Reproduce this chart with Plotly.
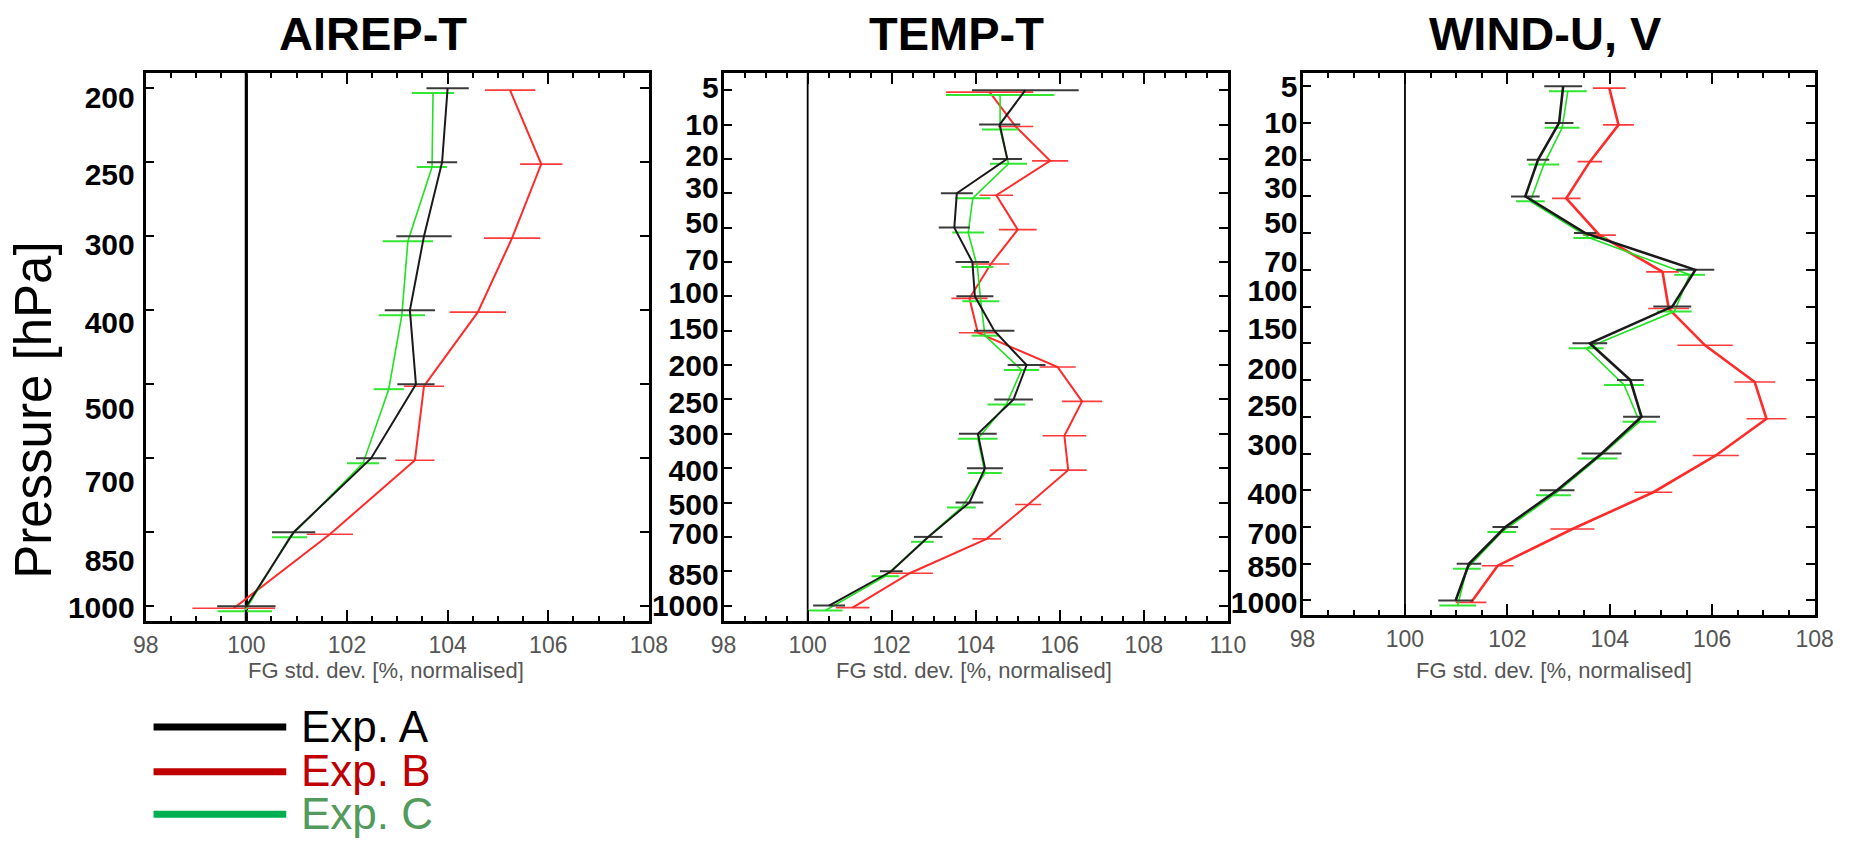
import plotly.graph_objects as go

W, H = 1870, 842

# ---------------- data ----------------
# AIREP-T
airep_levels = ["200", "250", "300", "400", "500", "700", "850", "1000"]
airep_A = [104.0, 103.89, 103.53, 103.25, 103.37, 102.48, 100.94, 100.0]
airep_A_err = [0.42, 0.30, 0.55, 0.50, 0.37, 0.30, 0.43, 0.58]
airep_B = [105.24, 105.86, 105.28, 104.60, 103.53, 103.35, 101.66, 99.75]
airep_B_err = [0.50, 0.42, 0.56, 0.56, 0.40, 0.39, 0.46, 0.82]
airep_C = [103.71, 103.69, 103.21, 103.09, 102.83, 102.32, 100.86, 99.97]
airep_C_err = [0.42, 0.30, 0.50, 0.46, 0.30, 0.32, 0.35, 0.54]

# TEMP-T
temp_levels = ["5", "10", "20", "30", "50", "70", "100", "150", "200", "250",
               "300", "400", "500", "700", "850", "1000"]
temp_A = [105.18, 104.57, 104.75, 103.55, 103.49, 103.92, 103.98, 104.44,
          105.21, 104.90, 104.05, 104.22, 103.85, 102.87, 101.99, 100.51]
temp_A_err = [1.27, 0.49, 0.35, 0.38, 0.37, 0.40, 0.44, 0.48,
              0.45, 0.46, 0.45, 0.43, 0.33, 0.34, 0.27, 0.38]
temp_B = [104.33, 104.95, 105.77, 104.49, 105.00, 104.36, 103.85, 104.05,
          105.95, 106.53, 106.11, 106.20, 105.25, 104.26, 102.43, 101.07]
temp_B_err = [1.04, 0.42, 0.43, 0.40, 0.45, 0.44, 0.43, 0.45,
              0.43, 0.48, 0.52, 0.44, 0.31, 0.34, 0.55, 0.40]
temp_C = [104.58, 104.58, 104.78, 103.93, 103.82, 104.04, 104.12, 104.22,
          105.09, 104.73, 104.05, 104.22, 103.66, 102.73, 101.85, 100.42]
temp_C_err = [1.29, 0.43, 0.44, 0.42, 0.38, 0.38, 0.44, 0.32,
              0.42, 0.45, 0.47, 0.40, 0.34, 0.27, 0.33, 0.41]

# WIND-U, V
wind_levels = ["5", "10", "20", "30", "50", "70", "100", "150", "200", "250",
               "300", "400", "700", "850", "1000"]
wind_A = [103.09, 103.01, 102.60, 102.35, 103.52, 105.67, 105.22, 103.61,
          104.40, 104.62, 103.84, 102.97, 101.96, 101.25, 100.99]
wind_A_err = [0.37, 0.28, 0.22, 0.28, 0.22, 0.37, 0.37, 0.34,
              0.26, 0.36, 0.39, 0.34, 0.25, 0.24, 0.34]
wind_B = [103.99, 104.17, 103.61, 103.15, 103.80, 105.03, 105.15, 105.86,
          106.83, 107.06, 106.07, 104.85, 103.27, 101.81, 101.29]
wind_B_err = [0.32, 0.30, 0.24, 0.28, 0.32, 0.32, 0.40, 0.54,
              0.40, 0.39, 0.45, 0.37, 0.43, 0.31, 0.30]
wind_C = [103.18, 103.07, 102.71, 102.45, 103.61, 105.56, 105.26, 103.54,
          104.28, 104.58, 103.76, 102.90, 101.89, 101.21, 101.03]
wind_C_err = [0.37, 0.34, 0.30, 0.28, 0.32, 0.30, 0.34, 0.34,
              0.39, 0.33, 0.39, 0.34, 0.28, 0.27, 0.36]

legend_names = ["Exp. A", "Exp. B", "Exp. C"]

# ---------------- layout of the three panels (pixels) ----------------
# label_shift: where each pressure label sits relative to its tick (in level units)
panels = [
    dict(title="AIREP-T", title_x=366, xtitle_x=380,
         box=(135, 70, 647, 623), xrange=[98, 108], yrange=[7.2, -0.2],
         levels=airep_levels,
         label_shift=[0.12, 0.16, 0.11, 0.16, 0.33, 0.31, 0.38, 0.01],
         label_gap=10, vline_w=3.2, lw=(2.0, 1.6, 2.0),
         series=[(airep_B, airep_B_err), (airep_C, airep_C_err), (airep_A, airep_A_err)]),
    dict(title="TEMP-T", title_x=960, xtitle_x=978,
         box=(723, 70, 1236, 623), xrange=[98, 110], yrange=[15.45, -0.49],
         levels=temp_levels,
         label_shift=[-0.09, -0.01, -0.09, -0.17, -0.14, -0.06, -0.10, -0.06,
                      0.01, 0.09, 0.03, 0.08, 0.05, -0.09, 0.10, -0.01],
         label_gap=4, vline_w=1.8, lw=(2.0, 1.6, 2.0),
         series=[(temp_B, temp_B_err), (temp_C, temp_C_err), (temp_A, temp_A_err)]),
    dict(title="WIND-U, V", title_x=1559, xtitle_x=1568,
         box=(1312, 70, 1833, 617), xrange=[98, 108], yrange=[14.4, -0.35],
         levels=wind_levels,
         label_shift=[0.0, 0.0, -0.12, -0.23, -0.30, -0.22, -0.44, -0.40,
                      -0.31, -0.31, -0.25, 0.08, 0.17, 0.07, 0.05],
         label_gap=4, vline_w=1.8, lw=(2.6, 1.6, 2.6),
         series=[(wind_B, wind_B_err), (wind_C, wind_C_err), (wind_A, wind_A_err)]),
]

# drawing order: B (red), C (green), A (black) on top
line_colors = ["#ff2b2b", "#22e022", "#1a1a1a"]
bar_colors = ["#ff3b3b", "#33e633", "#3a3a3a"]
bar_px_shift = [2, 5, 0]          # small vertical offset of each experiment's bars, px

FONT = "Liberation Sans, Arial, sans-serif"

fig = go.Figure()
layout = {}
annotations = []
shapes = []

for k, p in enumerate(panels):
    n = k + 1
    sfx = "" if n == 1 else str(n)
    xa, ya = "x" + sfx, "y" + sfx
    lab_ax = "y" + str(n + 3)
    left, top, right, bottom = p["box"]
    nlev = len(p["levels"])
    px_per_level = (bottom - top) / (p["yrange"][0] - p["yrange"][1])

    for (vals, errs), lc, bc, shift, lw, ewidth in zip(
            p["series"], line_colors, bar_colors, bar_px_shift, p["lw"], (1.6, 2.0, 2.0)):
        yy = [i + shift / px_per_level for i in range(nlev)]
        fig.add_trace(go.Scatter(
            x=vals, y=yy, mode="lines", xaxis=xa, yaxis=ya, showlegend=False,
            line=dict(color=lc, width=lw),
            error_x=dict(type="data", array=errs, visible=True, color=bc,
                         thickness=ewidth, width=0),
            hoverinfo="x+y"))

    # invisible carrier so the pressure-label axis is rendered
    fig.add_trace(go.Scatter(
        x=[p["xrange"][0]], y=[0], mode="markers", xaxis=xa, yaxis=lab_ax,
        marker=dict(opacity=0, size=1), showlegend=False, hoverinfo="skip"))

    layout["xaxis" + sfx] = dict(
        domain=[left / W, right / W], anchor=ya, range=p["xrange"],
        tick0=98, dtick=2, ticks="inside", ticklen=11, tickwidth=2, tickcolor="black",
        showline=True, linewidth=2.5, linecolor="black", mirror="ticks",
        showgrid=False, zeroline=False, ticklabelstandoff=2,
        tickfont=dict(family=FONT, size=23, color="#555555"),
        minor=dict(dtick=0.5, tick0=98, ticks="inside", ticklen=5, tickwidth=2,
                   tickcolor="black", showgrid=False))
    layout["yaxis" + sfx] = dict(
        domain=[1 - bottom / H, 1 - top / H], anchor=xa, range=p["yrange"],
        tickvals=list(range(nlev)), ticks="inside", ticklen=9, tickwidth=2,
        tickcolor="black", showticklabels=False, showline=True, linewidth=2.5,
        linecolor="black", mirror="ticks", showgrid=False, zeroline=False)
    layout["yaxis" + str(n + 3)] = dict(
        overlaying=ya, anchor=xa, side="left", range=p["yrange"],
        tickvals=[i + s for i, s in enumerate(p["label_shift"])],
        ticktext=p["levels"], ticks="", showline=False, showgrid=False,
        zeroline=False, ticklabelstandoff=p["label_gap"],
        tickfont=dict(family=FONT, size=30, color="black", weight="bold"))

    # reference line at 100 %
    shapes.append(dict(type="line", xref=xa, yref=ya + " domain", x0=100, x1=100,
                       y0=0, y1=1, line=dict(color="black", width=p["vline_w"]),
                       layer="below"))
    # panel title
    annotations.append(dict(text=p["title"], x=p["title_x"] / W, y=1 - 30 / H,
                            xref="paper", yref="paper", showarrow=False,
                            xanchor="center", yanchor="middle",
                            font=dict(family=FONT, size=47, color="black", weight="bold")))
    # x-axis title
    annotations.append(dict(text="FG std. dev. [%, normalised]", x=p["xtitle_x"] / W,
                            y=1 - 673 / H, xref="paper", yref="paper", showarrow=False,
                            xanchor="center", yanchor="middle",
                            font=dict(family=FONT, size=22, color="#555555")))

# shared y-axis title
annotations.append(dict(text="Pressure [hPa]", x=20 / W, y=1 - 410 / H, xref="paper",
                        yref="paper", showarrow=False, textangle=-90,
                        xanchor="center", yanchor="middle",
                        font=dict(family=FONT, size=51, color="black")))

# legend drawn below the first panel
leg_line_colors = ["#000000", "#c00000", "#00b050"]
leg_text_colors = ["#000000", "#c00000", "#529b5c"]
leg_rows = [730, 775, 818]
for name, lc, tc, yr in zip(legend_names, leg_line_colors, leg_text_colors, leg_rows):
    shapes.append(dict(type="line", xref="paper", yref="paper",
                       x0=143 / W, x1=278 / W, y0=1 - yr / H, y1=1 - yr / H,
                       line=dict(color=lc, width=7)))
    annotations.append(dict(text=name, x=291 / W, y=1 - (yr - 1) / H, xref="paper",
                            yref="paper", showarrow=False, xanchor="left",
                            yanchor="middle",
                            font=dict(family=FONT, size=44, color=tc)))

fig.update_layout(
    width=W, height=H, margin=dict(l=0, r=0, t=0, b=0),
    paper_bgcolor="white", plot_bgcolor="white",
    annotations=annotations, shapes=shapes, showlegend=False,
    **layout)

fig.write_html("out.html")
